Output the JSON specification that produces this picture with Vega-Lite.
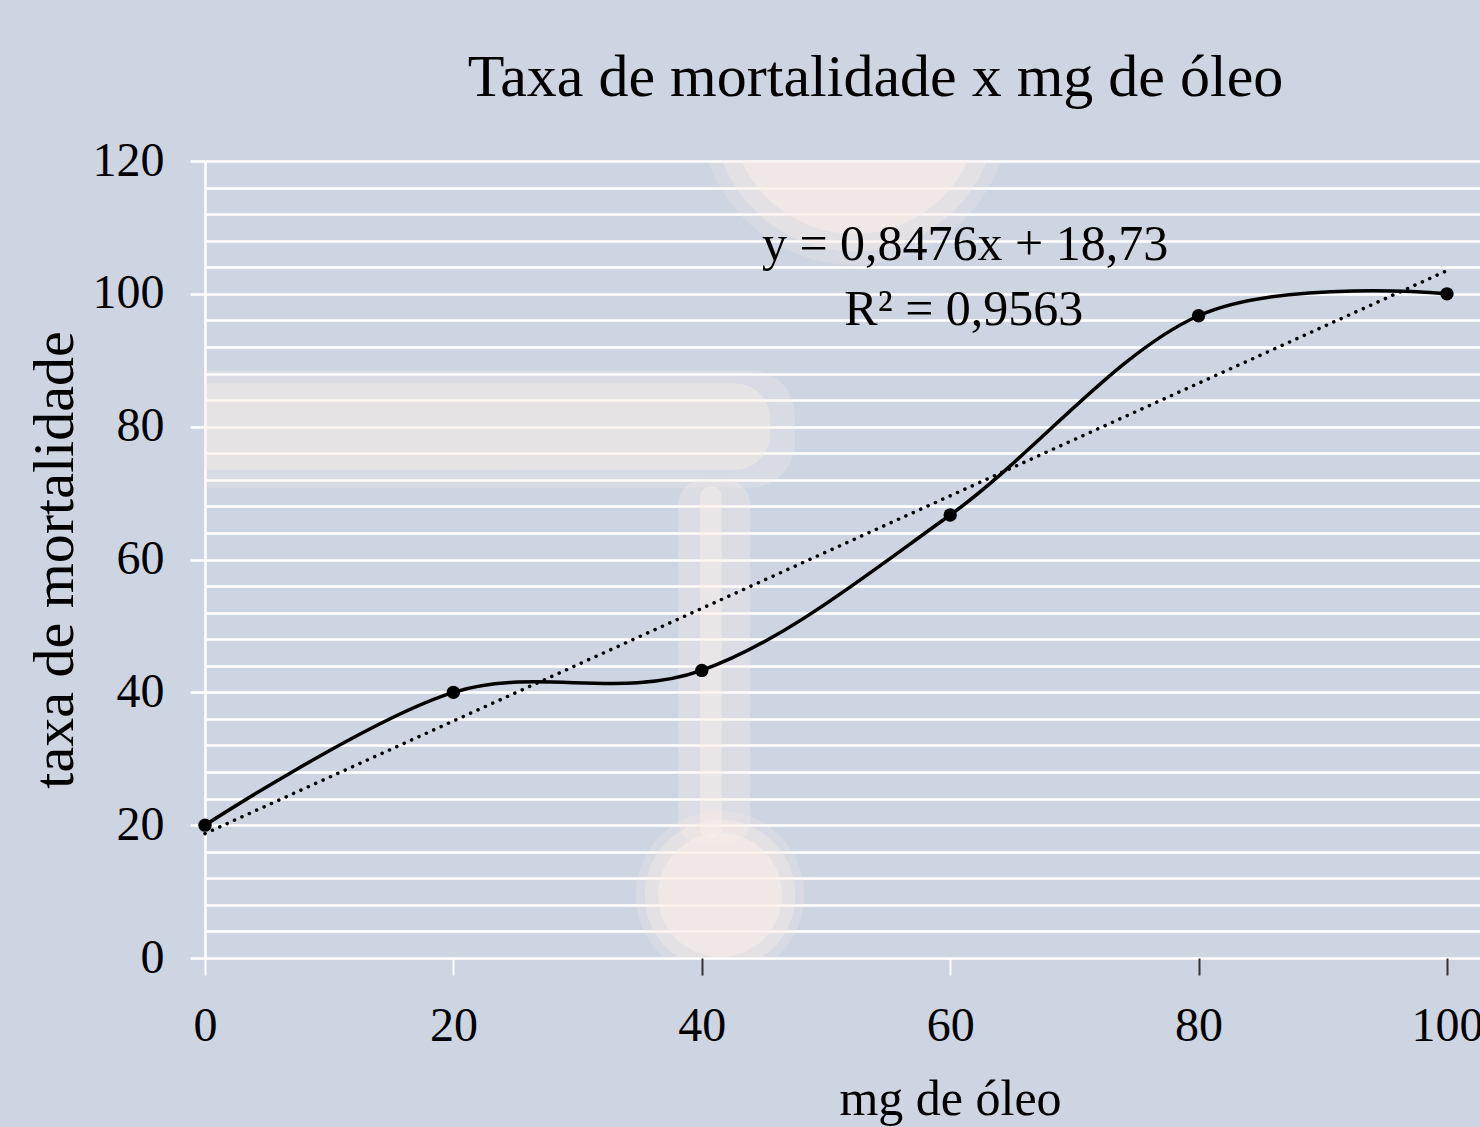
{
  "$schema": "https://vega.github.io/schema/vega-lite/v6.json",
  "width": 1275,
  "height": 797,
  "autosize": {"type": "none"},
  "padding": {"left": 205, "top": 161, "right": 0, "bottom": 169},
  "background": "#cdd5e2",
  "config": {"view": {"stroke": null}, "font": "Liberation Serif"},
  "title": {
    "text": "Taxa de mortalidade x mg de óleo",
    "font": "Liberation Serif",
    "fontSize": 60,
    "fontWeight": "normal",
    "color": "black",
    "anchor": "middle",
    "frame": "group",
    "dx": 33,
    "offset": 28
  },
  "resolve": {"axis": {"x": "independent", "y": "independent"}},
  "datasets": {
    "obs": [
      {"x": 0, "y": 20},
      {"x": 20, "y": 40},
      {"x": 40, "y": 43.3},
      {"x": 60, "y": 66.7},
      {"x": 80, "y": 96.7},
      {"x": 100, "y": 100}
    ],
    "trend": [
      {"x": 0, "y": 18.73},
      {"x": 100, "y": 103.49}
    ],
    "notes": [
      {"label": "y = 0,8476x + 18,73", "line": 1},
      {"label": "R² = 0,9563", "line": 2}
    ],
    "one": [{"a": 1}]
  },
  "layer": [
    {
      "data": {"name": "one"},
      "layer": [
        {"mark": {"type": "point", "clip": true, "filled": true, "shape": "circle", "color": "#fcefe9", "opacity": 0.22, "size": 96211, "strokeWidth": 0},
         "encoding": {"x": {"datum": 52.3, "type": "quantitative", "axis": null}, "y": {"datum": 127.7, "type": "quantitative", "axis": null}}},
        {"mark": {"type": "point", "clip": true, "filled": true, "shape": "circle", "color": "#fcefe9", "opacity": 0.35, "size": 80425, "strokeWidth": 0},
         "encoding": {"x": {"datum": 52.3, "type": "quantitative", "axis": null}, "y": {"datum": 127.7, "type": "quantitative", "axis": null}}},
        {"mark": {"type": "point", "clip": true, "filled": true, "shape": "circle", "color": "#fcefe9", "opacity": 0.5, "size": 61575, "strokeWidth": 0},
         "encoding": {"x": {"datum": 52.3, "type": "quantitative", "axis": null}, "y": {"datum": 127.7, "type": "quantitative", "axis": null}}},
        {"mark": {"type": "point", "clip": true, "filled": true, "shape": "circle", "color": "#fcefe9", "opacity": 0.22, "size": 28353, "strokeWidth": 0},
         "encoding": {"x": {"datum": 41.47, "type": "quantitative", "axis": null}, "y": {"datum": 9.49, "type": "quantitative", "axis": null}}},
        {"mark": {"type": "point", "clip": true, "filled": true, "shape": "circle", "color": "#fcefe9", "opacity": 0.35, "size": 22698, "strokeWidth": 0},
         "encoding": {"x": {"datum": 41.47, "type": "quantitative", "axis": null}, "y": {"datum": 9.49, "type": "quantitative", "axis": null}}},
        {"mark": {"type": "point", "clip": true, "filled": true, "shape": "circle", "color": "#fcefe9", "opacity": 0.5, "size": 15394, "strokeWidth": 0},
         "encoding": {"x": {"datum": 41.47, "type": "quantitative", "axis": null}, "y": {"datum": 9.49, "type": "quantitative", "axis": null}}},
        {"mark": {"type": "rect", "clip": true, "color": "#fcefe9", "opacity": 0.3, "cornerRadius": 25},
         "encoding": {"x": {"datum": 38.1, "type": "quantitative", "axis": null}, "x2": {"datum": 43.9}, "y": {"datum": 72.0, "type": "quantitative", "axis": null}, "y2": {"datum": 17.0}}},
        {"mark": {"type": "rect", "clip": true, "color": "#fcefe9", "opacity": 0.45, "cornerRadius": 10},
         "encoding": {"x": {"datum": 39.85, "type": "quantitative", "axis": null}, "x2": {"datum": 41.6}, "y": {"datum": 71.0, "type": "quantitative", "axis": null}, "y2": {"datum": 18.0}}},
        {"mark": {"type": "rect", "clip": true, "color": "#fcefe9", "opacity": 0.25, "cornerRadius": 45},
         "encoding": {"x": {"datum": -16.5, "type": "quantitative", "axis": null}, "x2": {"datum": 47.5}, "y": {"datum": 88.5, "type": "quantitative", "axis": null}, "y2": {"datum": 70.8}}},
        {"mark": {"type": "rect", "clip": true, "color": "#fcefe9", "opacity": 0.4, "cornerRadius": 35},
         "encoding": {"x": {"datum": -16.5, "type": "quantitative", "axis": null}, "x2": {"datum": 45.5}, "y": {"datum": 86.5, "type": "quantitative", "axis": null}, "y2": {"datum": 73.5}}}
      ]
    },
    {
      "data": {"name": "trend"},
      "mark": {"type": "line", "color": "black", "strokeWidth": 3.5, "strokeDash": [0.1, 8], "strokeCap": "round"},
      "encoding": {
        "x": {
          "field": "x",
          "type": "quantitative",
          "scale": {"domain": [0, 102.66], "nice": false, "zero": false},
          "axis": {
            "title": "mg de óleo",
            "values": [0, 20, 40, 60, 80, 100],
            "grid": false,
            "domain": false,
            "labelFlush": false,
            "labelFont": "Liberation Serif",
            "labelFontSize": 48,
            "labelColor": "black",
            "labelPadding": 27,
            "tickSize": 17,
            "tickWidth": 2,
            "tickColor": {"condition": {"test": "datum.value == 40 || datum.value == 80 || datum.value == 100", "value": "#333333"}, "value": "white"},
            "titleFont": "Liberation Serif",
            "titleFontSize": 50,
            "titleFontWeight": "normal",
            "titleColor": "black",
            "titlePadding": 24,
            "titleX": 745
          }
        },
        "y": {
          "field": "y",
          "type": "quantitative",
          "scale": {"domain": [0, 120], "nice": false, "zero": true},
          "axis": {
            "title": "taxa de mortalidade",
            "values": [0, 4, 8, 12, 16, 20, 24, 28, 32, 36, 40, 44, 48, 52, 56, 60, 64, 68, 72, 76, 80, 84, 88, 92, 96, 100, 104, 108, 112, 116, 120],
            "labelExpr": "datum.value % 20 === 0 ? datum.label : ''",
            "labelFlush": false,
            "labelOverlap": false,
            "grid": true,
            "gridColor": "white",
            "gridWidth": 2.5,
            "gridOpacity": 1,
            "domain": true,
            "domainColor": "white",
            "domainWidth": 2.5,
            "tickColor": "white",
            "tickWidth": 2.5,
            "tickSize": 15,
            "tickOpacity": {"condition": {"test": "datum.value % 20 === 0", "value": 1}, "value": 0},
            "labelFont": "Liberation Serif",
            "labelFontSize": 48,
            "labelColor": "black",
            "labelPadding": 26,
            "titleFont": "Liberation Serif",
            "titleFontSize": 58,
            "titleFontWeight": "normal",
            "titleColor": "black",
            "titlePadding": 8
          }
        }
      }
    },
    {
      "data": {"name": "obs"},
      "mark": {"type": "line", "color": "black", "strokeWidth": 3.5, "interpolate": "cardinal"},
      "encoding": {
        "x": {"field": "x", "type": "quantitative", "axis": null},
        "y": {"field": "y", "type": "quantitative", "axis": null}
      }
    },
    {
      "data": {"name": "obs"},
      "mark": {"type": "circle", "color": "black", "size": 180, "opacity": 1},
      "encoding": {
        "x": {"field": "x", "type": "quantitative", "axis": null},
        "y": {"field": "y", "type": "quantitative", "axis": null}
      }
    },
    {
      "data": {"name": "notes"},
      "transform": [{"filter": "datum.line == 1"}],
      "mark": {"type": "text", "font": "Liberation Serif", "fontSize": 50, "color": "black", "align": "center", "baseline": "alphabetic"},
      "encoding": {
        "text": {"field": "label", "type": "nominal"},
        "x": {"datum": 61.2, "type": "quantitative", "axis": null},
        "y": {"datum": 105.1, "type": "quantitative", "axis": null}
      }
    },
    {
      "data": {"name": "notes"},
      "transform": [{"filter": "datum.line == 2"}],
      "mark": {"type": "text", "font": "Liberation Serif", "fontSize": 50, "color": "black", "align": "center", "baseline": "alphabetic"},
      "encoding": {
        "text": {"field": "label", "type": "nominal"},
        "x": {"datum": 61.1, "type": "quantitative", "axis": null},
        "y": {"datum": 95.3, "type": "quantitative", "axis": null}
      }
    }
  ]
}
